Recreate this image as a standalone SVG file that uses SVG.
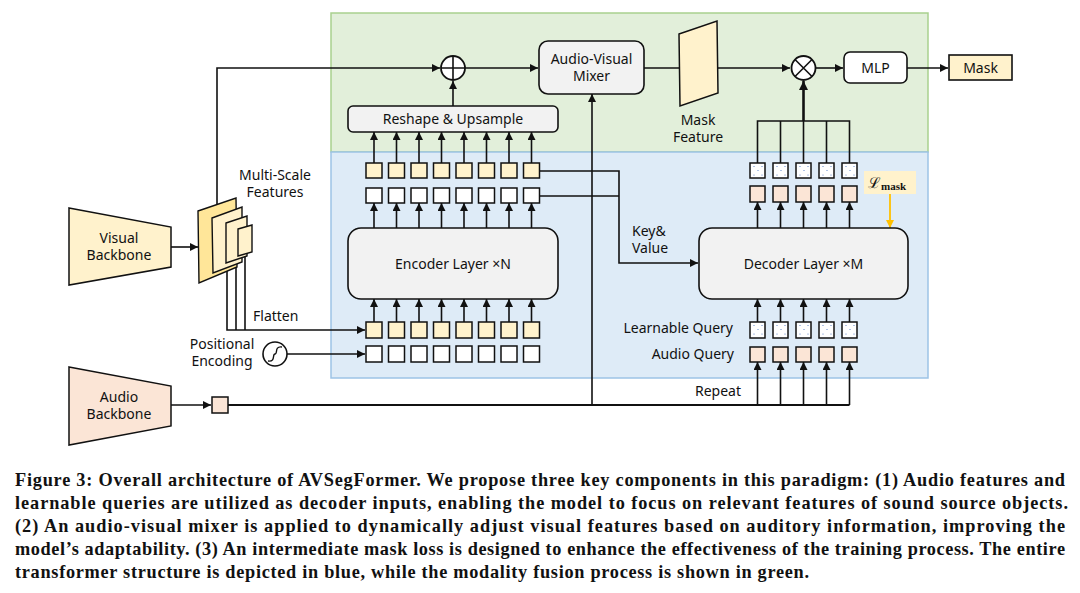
<svg xmlns="http://www.w3.org/2000/svg" width="1080" height="593" viewBox="0 0 1080 593">
<defs>
<style>
.t{font-family:"Noto Sans","Open Sans","DejaVu Sans",sans-serif;font-size:14px;fill:#111;}
.c{text-anchor:middle;}
.r{text-anchor:end;}
.box{fill:#f2f2f2;stroke:#111;stroke-width:1.6;}
.ln{fill:none;stroke:#111;stroke-width:1.6;}
.sq{stroke:#111;stroke-width:1.5;}
.y{fill:#fff2cc;}
.w{fill:#ffffff;}
.p{fill:#fbe5d6;}
.cap{font-family:"Liberation Serif","DejaVu Serif",serif;font-size:18.3px;font-weight:bold;fill:#111;}
.dot{fill:#4472c4;}
</style>
<marker id="ah" viewBox="0 0 10 10" refX="10" refY="5" markerWidth="8" markerHeight="8" markerUnits="userSpaceOnUse" orient="auto"><path d="M0,0 L10,5 L0,10 z" fill="#111"/></marker>
<marker id="ahb" viewBox="0 0 10 10" refX="10" refY="5" markerWidth="9" markerHeight="9" markerUnits="userSpaceOnUse" orient="auto"><path d="M0,0 L10,5 L0,10 z" fill="#111"/></marker>
<marker id="aho" viewBox="0 0 10 10" refX="10" refY="5" markerWidth="8" markerHeight="8" markerUnits="userSpaceOnUse" orient="auto"><path d="M0,0 L10,5 L0,10 z" fill="#ffc000"/></marker>
<g id="dots"><circle cx="4" cy="3.5" r="0.55" class="dot"/><circle cx="8" cy="7.5" r="0.55" class="dot"/><circle cx="12" cy="3.5" r="0.55" class="dot"/><circle cx="4" cy="12" r="0.55" class="dot"/><circle cx="12" cy="12" r="0.55" class="dot"/></g>
</defs>
<rect width="1080" height="593" fill="#ffffff"/>

<g id="regions">
<rect x="331" y="13" width="597" height="139" fill="#e2efda" stroke="#a9d18e" stroke-width="1.5"/>
<rect x="331" y="152" width="597" height="226" fill="#deebf7" stroke="#9dc3e6" stroke-width="1.5"/>
</g>

<g id="connectors">
<polyline class="ln" points="217,215 217,68 440,68" marker-end="url(#ah)"/>
<line class="ln" x1="465" y1="68" x2="538" y2="68" marker-end="url(#ah)"/>
<line class="ln" x1="453" y1="106" x2="453" y2="81" marker-end="url(#ah)"/>
<line class="ln" x1="644" y1="68" x2="680" y2="68"/>
<line class="ln" x1="717" y1="68" x2="790" y2="68" marker-end="url(#ah)"/>
<line class="ln" x1="816" y1="68" x2="843" y2="68" marker-end="url(#ah)"/>
<line class="ln" x1="907" y1="68" x2="948" y2="68" marker-end="url(#ah)"/>
<line x1="803.5" y1="121" x2="803.5" y2="81" stroke="#111" stroke-width="2.6" marker-end="url(#ahb)"/>
<polyline class="ln" points="757.5,163 757.5,121 849.5,121 849.5,163"/>
<line class="ln" x1="780.5" y1="163" x2="780.5" y2="121"/>
<line class="ln" x1="803.5" y1="163" x2="803.5" y2="121"/>
<line class="ln" x1="826.5" y1="163" x2="826.5" y2="121"/>
<g class="ln" marker-end="url(#ah)">
<line x1="374" y1="163" x2="374" y2="132"/><line x1="396.5" y1="163" x2="396.5" y2="132"/>
<line x1="419" y1="163" x2="419" y2="132"/><line x1="441.5" y1="163" x2="441.5" y2="132"/>
<line x1="464" y1="163" x2="464" y2="132"/><line x1="486.5" y1="163" x2="486.5" y2="132"/>
<line x1="509" y1="163" x2="509" y2="132"/><line x1="531.5" y1="163" x2="531.5" y2="132"/>
<line x1="374" y1="228" x2="374" y2="203"/><line x1="396.5" y1="228" x2="396.5" y2="203"/>
<line x1="419" y1="228" x2="419" y2="203"/><line x1="441.5" y1="228" x2="441.5" y2="203"/>
<line x1="464" y1="228" x2="464" y2="203"/><line x1="486.5" y1="228" x2="486.5" y2="203"/>
<line x1="509" y1="228" x2="509" y2="203"/><line x1="531.5" y1="228" x2="531.5" y2="203"/>
<line x1="374" y1="322" x2="374" y2="299"/><line x1="396.5" y1="322" x2="396.5" y2="299"/>
<line x1="419" y1="322" x2="419" y2="299"/><line x1="441.5" y1="322" x2="441.5" y2="299"/>
<line x1="464" y1="322" x2="464" y2="299"/><line x1="486.5" y1="322" x2="486.5" y2="299"/>
<line x1="509" y1="322" x2="509" y2="299"/><line x1="531.5" y1="322" x2="531.5" y2="299"/>
<line x1="757.5" y1="228" x2="757.5" y2="202"/><line x1="780.5" y1="228" x2="780.5" y2="202"/>
<line x1="803.5" y1="228" x2="803.5" y2="202"/><line x1="826.5" y1="228" x2="826.5" y2="202"/>
<line x1="849.5" y1="228" x2="849.5" y2="202"/>
<line x1="757.5" y1="322" x2="757.5" y2="299"/><line x1="780.5" y1="322" x2="780.5" y2="299"/>
<line x1="803.5" y1="322" x2="803.5" y2="299"/><line x1="826.5" y1="322" x2="826.5" y2="299"/>
<line x1="849.5" y1="322" x2="849.5" y2="299"/>
<line x1="757.5" y1="405" x2="757.5" y2="362"/><line x1="780.5" y1="405" x2="780.5" y2="362"/>
<line x1="803.5" y1="405" x2="803.5" y2="362"/><line x1="826.5" y1="405" x2="826.5" y2="362"/>
<line x1="849.5" y1="405" x2="849.5" y2="362"/>
<line x1="592" y1="405" x2="592" y2="94"/>
<line x1="171" y1="247" x2="198" y2="247"/>
<line x1="171" y1="405" x2="211" y2="405"/>
<line x1="287" y1="354" x2="365" y2="354"/>
</g>
<polyline class="ln" points="540,171 619,171 619,263 698,263" marker-end="url(#ah)"/>
<line class="ln" x1="540" y1="196" x2="619" y2="196"/>
<polyline class="ln" points="227,260 227,330 365,330" marker-end="url(#ah)"/>
<line class="ln" x1="236" y1="255" x2="236" y2="330"/>
<line class="ln" x1="245" y1="250" x2="245" y2="330"/>
<line x1="228" y1="405" x2="849.5" y2="405" stroke="#111" stroke-width="2"/>
<line x1="890" y1="194" x2="890" y2="228" stroke="#ffc000" stroke-width="1.8" marker-end="url(#aho)"/>
</g>

<g id="visual-backbone">
<polygon points="69,208 171,227 171,267 69,285" class="y" stroke="#111" stroke-width="1.5"/>
<text class="t c" x="119" y="243">Visual</text>
<text class="t c" x="119" y="260">Backbone</text>
</g>

<g id="audio-backbone">
<polygon points="69,367 171,386 171,426 69,445" class="p" stroke="#111" stroke-width="1.5"/>
<text class="t c" x="119" y="402">Audio</text>
<text class="t c" x="119" y="419">Backbone</text>
</g>

<g id="audio-feature">
<rect x="212" y="397" width="16" height="16" class="sq p"/>
</g>

<g id="multi-scale-features">
<polygon points="198,211 236,198 237,267 199,283" fill="#ffe699" stroke="#111" stroke-width="1.4"/>
<polygon points="212,218 242,207 242,262 213,273" class="y" stroke="#111" stroke-width="1.4"/>
<polygon points="226,223 247,216 247,256 226,263" class="y" stroke="#111" stroke-width="1.4"/>
<polygon points="238,229 252,225 252,252 238,256" class="y" stroke="#111" stroke-width="1.4"/>
<text class="t c" x="275" y="180">Multi-Scale</text>
<text class="t c" x="275" y="197">Features</text>
<text class="t" x="253" y="321">Flatten</text>
</g>

<g id="positional-encoding">
<circle cx="275" cy="354" r="12" fill="#fff" stroke="#111" stroke-width="1.6"/>
<path d="M268,361 C276,362 272,354 275,354 C278,354 274,346 282,347" fill="none" stroke="#111" stroke-width="1.4"/>
<text class="t c" x="222" y="349">Positional</text>
<text class="t c" x="222" y="366">Encoding</text>
</g>

<g id="add-op">
<circle cx="453" cy="68" r="12" fill="#fff" stroke="#111" stroke-width="1.8"/>
<path d="M441,68 H465 M453,56 V80" stroke="#111" stroke-width="1.6"/>
</g>

<g id="reshape-upsample">
<rect x="348" y="106" width="210" height="26" rx="5" class="box"/>
<text class="t c" x="453" y="124">Reshape &amp; Upsample</text>
</g>

<g id="av-mixer">
<rect x="539" y="41" width="105" height="53" rx="9" class="box"/>
<text class="t c" x="591.5" y="64">Audio-Visual</text>
<text class="t c" x="591.5" y="81">Mixer</text>
</g>

<g id="mask-feature">
<polygon points="679,34 717,21 718,93 680,106" class="y" stroke="#111" stroke-width="1.5"/>
<text class="t c" x="698" y="125">Mask</text>
<text class="t c" x="698" y="142">Feature</text>
</g>

<g id="mul-op">
<circle cx="803.5" cy="68" r="12" fill="#fff" stroke="#111" stroke-width="1.8"/>
<path d="M795,59.5 L812,76.5 M812,59.5 L795,76.5" stroke="#111" stroke-width="1.6"/>
</g>

<g id="mlp">
<rect x="844" y="52" width="63" height="31" rx="6" fill="#fff" stroke="#111" stroke-width="1.6"/>
<text class="t c" x="875.5" y="73">MLP</text>
</g>

<g id="mask-out">
<rect x="949" y="55" width="63" height="25" class="y" stroke="#111" stroke-width="1.6"/>
<text class="t c" x="980.5" y="73">Mask</text>
</g>

<g id="encoder">
<rect x="348" y="228" width="210" height="71" rx="13" class="box"/>
<text class="t c" x="453" y="269">Encoder Layer ×N</text>
</g>

<g id="encoder-inputs">
<g class="sq y">
<rect x="366" y="322" width="16" height="16"/><rect x="388.5" y="322" width="16" height="16"/>
<rect x="411" y="322" width="16" height="16"/><rect x="433.5" y="322" width="16" height="16"/>
<rect x="456" y="322" width="16" height="16"/><rect x="478.5" y="322" width="16" height="16"/>
<rect x="501" y="322" width="16" height="16"/><rect x="523.5" y="322" width="16" height="16"/>
</g>
<g class="sq w">
<rect x="366" y="346" width="16" height="16"/><rect x="388.5" y="346" width="16" height="16"/>
<rect x="411" y="346" width="16" height="16"/><rect x="433.5" y="346" width="16" height="16"/>
<rect x="456" y="346" width="16" height="16"/><rect x="478.5" y="346" width="16" height="16"/>
<rect x="501" y="346" width="16" height="16"/><rect x="523.5" y="346" width="16" height="16"/>
</g>
</g>

<g id="encoder-outputs">
<g class="sq y">
<rect x="366" y="163" width="16" height="15"/><rect x="388.5" y="163" width="16" height="15"/>
<rect x="411" y="163" width="16" height="15"/><rect x="433.5" y="163" width="16" height="15"/>
<rect x="456" y="163" width="16" height="15"/><rect x="478.5" y="163" width="16" height="15"/>
<rect x="501" y="163" width="16" height="15"/><rect x="523.5" y="163" width="16" height="15"/>
</g>
<g class="sq w">
<rect x="366" y="188" width="16" height="15"/><rect x="388.5" y="188" width="16" height="15"/>
<rect x="411" y="188" width="16" height="15"/><rect x="433.5" y="188" width="16" height="15"/>
<rect x="456" y="188" width="16" height="15"/><rect x="478.5" y="188" width="16" height="15"/>
<rect x="501" y="188" width="16" height="15"/><rect x="523.5" y="188" width="16" height="15"/>
</g>
</g>

<g id="key-value-label">
<text class="t" x="632" y="236">Key&amp;</text>
<text class="t" x="632" y="253">Value</text>
</g>

<g id="decoder">
<rect x="699" y="228" width="209" height="71" rx="13" class="box"/>
<text class="t c" x="803.5" y="269">Decoder Layer ×M</text>
</g>

<g id="decoder-outputs">
<g class="sq w">
<rect x="750" y="163" width="15" height="15"/><rect x="773" y="163" width="15" height="15"/>
<rect x="796" y="163" width="15" height="15"/><rect x="819" y="163" width="15" height="15"/>
<rect x="842" y="163" width="15" height="15"/>
</g>
<use href="#dots" x="750" y="163"/><use href="#dots" x="773" y="163"/><use href="#dots" x="796" y="163"/><use href="#dots" x="819" y="163"/><use href="#dots" x="842" y="163"/>
<g class="sq p">
<rect x="750" y="186" width="15" height="16"/><rect x="773" y="186" width="15" height="16"/>
<rect x="796" y="186" width="15" height="16"/><rect x="819" y="186" width="15" height="16"/>
<rect x="842" y="186" width="15" height="16"/>
</g>
</g>

<g id="mask-loss">
<rect x="864" y="171" width="52" height="23" fill="#fff2cc"/>
<text x="868" y="188" font-family="DejaVu Serif,serif" font-size="15" fill="#111">ℒ<tspan font-family="Liberation Serif,serif" font-weight="bold" font-size="11" dy="2">mask</tspan></text>
</g>

<g id="queries">
<g class="sq w">
<rect x="750" y="322" width="15" height="16"/><rect x="773" y="322" width="15" height="16"/>
<rect x="796" y="322" width="15" height="16"/><rect x="819" y="322" width="15" height="16"/>
<rect x="842" y="322" width="15" height="16"/>
</g>
<use href="#dots" x="750" y="322"/><use href="#dots" x="773" y="322"/><use href="#dots" x="796" y="322"/><use href="#dots" x="819" y="322"/><use href="#dots" x="842" y="322"/>
<g class="sq p">
<rect x="750" y="347" width="15" height="15"/><rect x="773" y="347" width="15" height="15"/>
<rect x="796" y="347" width="15" height="15"/><rect x="819" y="347" width="15" height="15"/>
<rect x="842" y="347" width="15" height="15"/>
</g>
<text class="t r" x="733" y="333">Learnable Query</text>
<text class="t r" x="734" y="359">Audio Query</text>
<text class="t c" x="718" y="396">Repeat</text>
</g>

<g id="caption">
<text class="cap" x="15" y="486" textLength="1050" lengthAdjust="spacing">Figure 3: Overall architecture of AVSegFormer. We propose three key components in this paradigm: (1) Audio features and</text>
<text class="cap" x="15" y="509" textLength="1053" lengthAdjust="spacing">learnable queries are utilized as decoder inputs, enabling the model to focus on relevant features of sound source objects.</text>
<text class="cap" x="15" y="532" textLength="1050" lengthAdjust="spacing">(2) An audio-visual mixer is applied to dynamically adjust visual features based on auditory information, improving the</text>
<text class="cap" x="15" y="555" textLength="1050" lengthAdjust="spacing">model’s adaptability. (3) An intermediate mask loss is designed to enhance the effectiveness of the training process. The entire</text>
<text class="cap" x="15" y="578" textLength="794" lengthAdjust="spacing">transformer structure is depicted in blue, while the modality fusion process is shown in green.</text>
</g>
</svg>
